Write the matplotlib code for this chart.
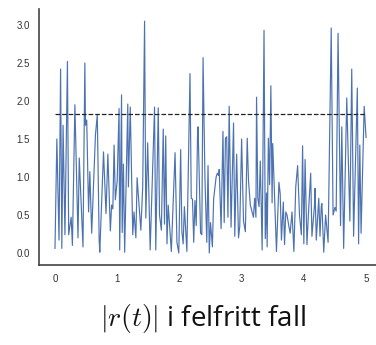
import matplotlib
matplotlib.use("Agg")
import matplotlib.pyplot as plt

# |r(t)| (time, value)
t = [0.00, 0.03, 0.065, 0.09, 0.11, 0.13, 0.16, 0.20, 0.22, 0.26, 0.28, 0.32, 0.37, 0.39,
     0.45, 0.48, 0.49, 0.51, 0.54, 0.56, 0.59, 0.65, 0.68, 0.71, 0.72, 0.78, 0.82, 0.85,
     0.89, 0.91, 0.93, 0.95, 0.97, 1.00, 1.03, 1.04, 1.07, 1.08, 1.10, 1.12, 1.17, 1.18,
     1.21, 1.23, 1.25, 1.27, 1.30, 1.32, 1.38, 1.41, 1.44, 1.46, 1.49, 1.53, 1.60, 1.62,
     1.66, 1.68, 1.71, 1.74, 1.76, 1.78, 1.80, 1.82, 1.87, 1.93, 1.96, 1.99, 2.02, 2.04,
     2.06, 2.08, 2.12, 2.17, 2.19, 2.21, 2.23, 2.25, 2.27, 2.29, 2.30, 2.34, 2.36, 2.38,
     2.41, 2.44, 2.46, 2.48, 2.50, 2.53, 2.55, 2.59, 2.61, 2.63, 2.64, 2.67, 2.70, 2.72,
     2.74, 2.76, 2.78, 2.80, 2.83, 2.87, 2.89, 2.92, 2.95, 2.97, 3.00, 3.03, 3.06, 3.09,
     3.11, 3.14, 3.19, 3.21, 3.23, 3.24, 3.26, 3.28, 3.30, 3.33, 3.36, 3.38, 3.40, 3.41,
     3.43, 3.45, 3.47, 3.49, 3.50, 3.56, 3.60, 3.62, 3.64, 3.67, 3.69, 3.71, 3.73, 3.76,
     3.78, 3.81, 3.84, 3.87, 3.90, 3.93, 3.96, 3.98, 4.00, 4.02, 4.05, 4.08, 4.11, 4.13,
     4.17, 4.18, 4.20, 4.24, 4.26, 4.28, 4.29, 4.32, 4.35, 4.39, 4.44, 4.47, 4.50, 4.52,
     4.55, 4.59, 4.61, 4.64, 4.69, 4.74, 4.77, 4.80, 4.86, 4.88, 4.90, 4.92, 4.97, 5.00]
r = [0.06, 1.50, 0.17, 2.42, 0.06, 1.68, 0.24, 2.52, 0.24, 0.47, 0.10, 1.95, 0.20, 1.25,
     0.08, 2.50, 1.68, 1.75, 0.54, 1.07, 0.26, 1.55, 1.82, 0.17, 0.01, 1.33, 0.52, 1.30,
     0.29, 0.63, 0.58, 1.42, 0.70, 0.95, 1.90, 0.04, 2.08, 0.27, 1.17, 0.01, 1.96, 0.87,
     1.92, 1.10, 0.24, 0.54, 0.20, 0.99, 0.30, 0.87, 3.05, 0.46, 1.45, 0.04, 1.92, 0.04,
     1.91, 0.50, 0.30, 1.63, 0.38, 1.54, 0.12, 0.63, 0.02, 1.32, 0.14, 0.00, 1.36, 0.28,
     0.12, 0.61, 0.02, 2.36, 0.72, 0.71, 0.14, 0.69, 0.36, 1.51, 1.66, 0.26, 0.24, 2.57,
     1.00, 0.14, 1.15, 0.00, 0.40, 0.08, 0.71, 1.00, 1.05, 1.02, 1.10, 0.32, 1.60, 0.40,
     1.51, 1.53, 0.47, 1.93, 0.34, 1.71, 0.22, 1.30, 0.20, 0.35, 1.50, 0.42, 0.28, 1.51,
     0.96, 0.63, 0.47, 0.72, 0.47, 2.05, 0.72, 0.61, 1.21, 0.04, 2.93, 0.19, 0.79, 0.08,
     1.51, 0.90, 2.20, 0.66, 1.44, 0.02, 0.93, 0.78, 0.17, 0.67, 0.11, 0.54, 0.50, 0.35,
     0.26, 0.54, 0.02, 0.87, 1.15, 0.50, 0.24, 1.41, 0.12, 1.23, 0.11, 0.61, 1.05, 0.22,
     0.61, 0.85, 0.17, 0.72, 0.22, 0.61, 0.65, 0.01, 0.50, 0.14, 2.96, 0.50, 0.60, 0.55,
     2.89, 0.36, 1.66, 0.06, 2.04, 0.42, 2.42, 0.22, 2.17, 0.12, 1.42, 0.26, 1.93, 1.52]
threshold = 1.83
xticks = [0, 1, 2, 3, 4, 5]
yticks = [0.0, 0.5, 1.0, 1.5, 2.0, 2.5, 3.0]

plt.rcParams['mathtext.fontset'] = 'cm'

fig = plt.figure(figsize=(3.76, 3.45), dpi=100)
ax = fig.add_axes([39 / 376, 80 / 345, 337 / 376, 256 / 345])

ax.plot(t, r, color='#4C72B0', lw=0.85)
ax.hlines(threshold, 0, 5, colors='#222222', linestyles='--', lw=0.9)

ax.set_xlim(-0.257, 5.16)
ax.set_ylim(-0.158, 3.21)
ax.set_xticks(xticks)
ax.set_yticks(yticks)
ax.set_yticklabels(['%.1f' % v for v in yticks])

for s in ['top', 'right']:
    ax.spines[s].set_visible(False)
for s in ['left', 'bottom']:
    ax.spines[s].set_color('#444444')
    ax.spines[s].set_linewidth(1.2)
ax.tick_params(length=0, pad=6.5, labelsize=7, labelcolor='#333333')
for lab in ax.get_xticklabels() + ax.get_yticklabels():
    lab.set_family('Liberation Sans')

ax.set_xlabel(r'$|r(t)|$ i felfritt fall', fontsize=20, family='Open Sans',
              color='#111111')
ax.xaxis.set_label_coords(0.487, -0.145)

fig.savefig('out.png', dpi=100)
